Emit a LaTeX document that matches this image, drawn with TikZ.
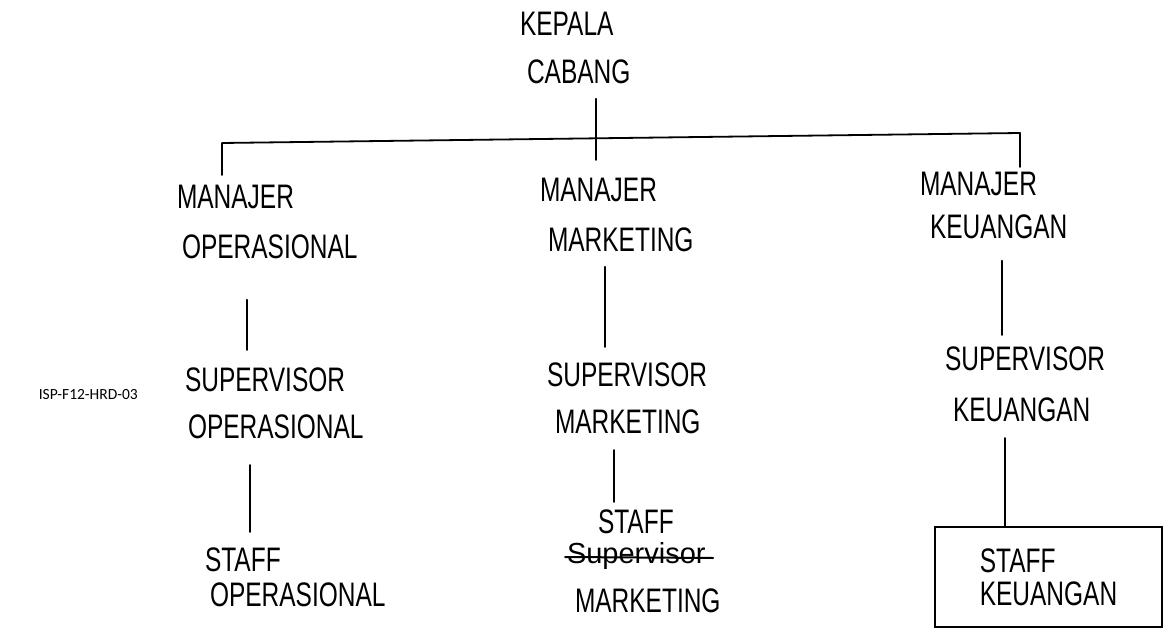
\documentclass[tikz,border=0pt]{standalone}
\usepackage{fontspec}
\setmainfont{Liberation Sans}
\newfontfamily\hand[FakeStretch=0.72]{Liberation Sans}
\newfontfamily\handwide{Liberation Sans}
\newfontfamily\printfont{Carlito}
\usetikzlibrary{calc}
\begin{document}
\begin{tikzpicture}[x=1pt,y=-1pt,
  lbl/.style={anchor=north west, inner sep=0pt, outer sep=0pt, align=left,
    font=\hand\fontsize{34}{#1}\selectfont},
  lbl/.default=48,
  conn/.style={line width=1.8pt, line cap=round, line join=round},
]
\useasboundingbox (0,0) rectangle (1164,636);

% nodes
\node[lbl=48] (kep) at (520,12) {KEPALA\\\hspace*{7pt}CABANG};
\node[lbl=50] (mop) at (177,185) {MANAJER\\\hspace*{5pt}OPERASIONAL};
\node[lbl=50] (mmk) at (540,178) {MANAJER\\\hspace*{8pt}MARKETING};
\node[lbl=43] (mku) at (920,172) {MANAJER\\\hspace*{10pt}KEUANGAN};
\node[lbl=47] (sop) at (185,368) {SUPERVISOR\\\hspace*{3pt}OPERASIONAL};
\node[lbl=47] (smk) at (547,363) {SUPERVISOR\\\hspace*{8pt}MARKETING};
\node[lbl=51] (sku) at (945,347) {SUPERVISOR\\\hspace*{8pt}KEUANGAN};
\node[lbl=35] (stop) at (205,548) {STAFF\\\hspace*{5pt}OPERASIONAL};
\node[lbl=30] (stmk) at (565,510) {\hspace*{33pt}STAFF\\{\handwide\fontsize{29}{30}\selectfont\hspace*{2pt}Supervisor}\\[19pt]\hspace*{10pt}MARKETING};
\node[draw, line width=1.8pt, minimum width=227pt, minimum height=100pt,
  inner sep=0pt, align=left, font=\hand\fontsize{34}{33}\selectfont]
  (stku) at (1048.5,577) {STAFF\\KEUANGAN};
\node[font=\printfont\fontsize{15.5}{18}\selectfont, anchor=base east, inner sep=0pt]
  (isp) at (138,399) {ISP-F12-HRD-03};

% strike-through on "Supervisor"
\draw[conn, line width=2pt] ($(stmk.north west)+(0,47)$) -- ++(148,1);

% connector coordinates
\coordinate (bl) at (222,143);
\coordinate (br) at (1020,133);
\coordinate (xm) at (596,0);
\coordinate (xo1) at (247,0);
\coordinate (xo2) at (250,0);
\coordinate (xk1) at (605,0);
\coordinate (xk2) at (614,0);
\coordinate (xu1) at (1002,0);
\coordinate (xu2) at (1005,0);

% connectors
\draw[conn, shorten <=15pt, shorten >=18pt] (kep.south -| xm) -- (mmk.north -| xm);
\draw[conn, shorten <=10pt, shorten >=5pt] (bl |- mop.north) -- (bl) -- (br) -- (br |- mku.north);
\draw[conn, shorten <=41pt, shorten >=18pt] (mop.south -| xo1) -- (sop.north -| xo1);
\draw[conn, shorten <=26pt, shorten >=16pt] (sop.south -| xo2) -- (stop.north -| xo2);
\draw[conn, shorten <=15pt, shorten >=16pt] (mmk.south -| xk1) -- (smk.north -| xk1);
\draw[conn, shorten <=16pt, shorten >=8pt] (smk.south -| xk2) -- (stmk.north -| xk2);
\draw[conn, shorten <=22pt, shorten >=12pt] (mku.south -| xu1) -- (sku.north -| xu1);
\draw[conn, shorten <=16pt] (sku.south -| xu2) -- (stku.north -| xu2);
\end{tikzpicture}
\end{document}
